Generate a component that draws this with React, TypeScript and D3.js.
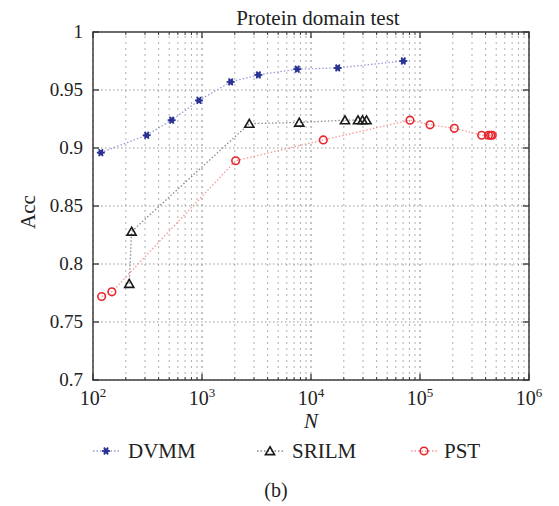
import React from "react";
import * as d3 from "d3";

// values
const dvmmN = [118, 311, 527, 938, 1832, 3290, 7480, 17580, 70300];
const dvmmAcc = [0.896, 0.911, 0.924, 0.941, 0.957, 0.963, 0.968, 0.969, 0.975];

const srilmN = [215, 226, 2716, 7810, 20500, 27000, 29700, 32300];
const srilmAcc = [0.783, 0.828, 0.921, 0.922, 0.924, 0.924, 0.924, 0.924];

const pstN = [120, 149, 2036, 12970, 80900, 123600, 206500, 368000, 425000, 445000, 460000];
const pstAcc = [0.772, 0.776, 0.889, 0.907, 0.924, 0.92, 0.917, 0.911, 0.911, 0.911, 0.911];

const yTicks = [0.7, 0.75, 0.8, 0.85, 0.9, 0.95, 1];
const yTickLabels = ["0.7", "0.75", "0.8", "0.85", "0.9", "0.95", "1"];
const xDecades = [2, 3, 4, 5, 6];

const W = 559;
const H = 506;
const margin = { left: 93, top: 32, right: 30, bottom: 126 };
const FONT = "'Liberation Serif', 'Times New Roman', serif";

const App = () => {
  const x = d3
    .scaleLog()
    .domain([1e2, 1e6])
    .range([margin.left, W - margin.right]);
  const y = d3
    .scaleLinear()
    .domain([0.7, 1])
    .range([H - margin.bottom, margin.top]);

  const x0 = x.range()[0];
  const x1 = x.range()[1];
  const y0 = y.range()[0];
  const y1 = y.range()[1];

  // minor log positions
  const minors: number[] = [];
  for (let e = 2; e < 6; e++) {
    for (let m = 2; m <= 9; m++) minors.push(m * Math.pow(10, e));
  }

  const line = d3
    .line<[number, number]>()
    .x((d) => x(d[0]))
    .y((d) => y(d[1]));

  const dvmm = dvmmN.map((n, i) => [n, dvmmAcc[i]] as [number, number]);
  const srilm = srilmN.map((n, i) => [n, srilmAcc[i]] as [number, number]);
  const pst = pstN.map((n, i) => [n, pstAcc[i]] as [number, number]);

  const tri = d3.symbol(d3.symbolTriangle, 36)();

  const star = (cx: number, cy: number, key: any) => (
    <g key={key} transform={`translate(${cx},${cy})`}>
      <circle r={2.6} fill="#2b3494" />
      {[0, 60, 120].map((a) => (
        <line
          key={a}
          x1={-4 * Math.cos((a * Math.PI) / 180)}
          y1={-4 * Math.sin((a * Math.PI) / 180)}
          x2={4 * Math.cos((a * Math.PI) / 180)}
          y2={4 * Math.sin((a * Math.PI) / 180)}
          stroke="#2b3494"
          strokeWidth={1.8}
        />
      ))}
    </g>
  );
  const triangle = (cx: number, cy: number, key: any) => (
    <path
      key={key}
      d={tri || ""}
      transform={`translate(${cx},${cy + 1})`}
      fill="none"
      stroke="#1a1a1a"
      strokeWidth={1.6}
    />
  );
  const circle = (cx: number, cy: number, key: any) => (
    <circle key={key} cx={cx} cy={cy} r={3.8} fill="none" stroke="#e8262b" strokeWidth={1.6} />
  );

  const legend = [
    { label: "DVMM", lx: 93, mx: 106, tx: 128, color: "#9c9cd8", mark: star },
    { label: "SRILM", lx: 257, mx: 270, tx: 292, color: "#8a8a8a", mark: triangle },
    { label: "PST", lx: 411, mx: 424, tx: 444, color: "#f29a9a", mark: circle },
  ];
  const ly = 451;

  return (
    <svg
      width={W}
      height={H}
      style={{ position: "absolute", left: 0, top: 0, background: "#fff", fontFamily: FONT }}
    >
      {/* grid */}
      <g>
        {minors.map((m) => (
          <line
            key={"m" + m}
            x1={x(m)}
            x2={x(m)}
            y1={y0}
            y2={y1}
            stroke="#b0b0b0"
            strokeWidth={1}
            strokeDasharray="2,4"
          />
        ))}
        {xDecades.map((e) => (
          <line
            key={"d" + e}
            x1={x(Math.pow(10, e))}
            x2={x(Math.pow(10, e))}
            y1={y0}
            y2={y1}
            stroke="#888"
            strokeWidth={1}
            strokeDasharray="2,4"
          />
        ))}
        {yTicks.map((t) => (
          <line
            key={"h" + t}
            x1={x0}
            x2={x1}
            y1={y(t)}
            y2={y(t)}
            stroke="#999"
            strokeWidth={1}
            strokeDasharray="1.5,2.5"
          />
        ))}
      </g>

      {/* series lines */}
      <path d={line(dvmm) || ""} fill="none" stroke="#9c9cd8" strokeWidth={1.3} strokeDasharray="1.5,2" />
      <path d={line(srilm) || ""} fill="none" stroke="#8a8a8a" strokeWidth={1.3} strokeDasharray="1.5,2" />
      <path d={line(pst) || ""} fill="none" stroke="#f29a9a" strokeWidth={1.3} strokeDasharray="1.5,2" />

      {/* markers */}
      {dvmm.map((d, i) => star(x(d[0]), y(d[1]), "s" + i))}
      {srilm.map((d, i) => triangle(x(d[0]), y(d[1]), "t" + i))}
      {pst.map((d, i) => circle(x(d[0]), y(d[1]), "c" + i))}

      {/* frame and ticks */}
      <rect x={x0} y={y1} width={x1 - x0} height={y0 - y1} fill="none" stroke="#4a4a4a" strokeWidth={1.6} />
      {xDecades.map((e) => (
        <g key={"xt" + e}>
          <line x1={x(Math.pow(10, e))} x2={x(Math.pow(10, e))} y1={y0} y2={y0 - 6} stroke="#333" strokeWidth={1.3} />
          <line x1={x(Math.pow(10, e))} x2={x(Math.pow(10, e))} y1={y1} y2={y1 + 6} stroke="#333" strokeWidth={1.3} />
        </g>
      ))}
      {minors.map((m) => (
        <g key={"xm" + m}>
          <line x1={x(m)} x2={x(m)} y1={y0} y2={y0 - 3} stroke="#333" strokeWidth={1} />
          <line x1={x(m)} x2={x(m)} y1={y1} y2={y1 + 3} stroke="#333" strokeWidth={1} />
        </g>
      ))}
      {yTicks.map((t) => (
        <g key={"yt" + t}>
          <line x1={x0} x2={x0 + 6} y1={y(t)} y2={y(t)} stroke="#333" strokeWidth={1.3} />
          <line x1={x1} x2={x1 - 6} y1={y(t)} y2={y(t)} stroke="#333" strokeWidth={1.3} />
        </g>
      ))}

      {/* tick labels */}
      {yTicks.map((t, i) => (
        <text key={"yl" + t} x={83} y={y(t)} dy="0.34em" textAnchor="end" fontSize={19} fill="#222">
          {yTickLabels[i]}
        </text>
      ))}
      {xDecades.map((e) => (
        <text key={"xl" + e} x={x(Math.pow(10, e))} y={y0 + 25} textAnchor="middle" fontSize={20} fill="#222">
          <tspan>10</tspan>
          <tspan dy={-8} fontSize={13}>
            {e}
          </tspan>
        </text>
      ))}

      {/* titles */}
      <text x={318} y={25} textAnchor="middle" fontSize={21} fill="#222">
        Protein domain test
      </text>
      <text transform={`translate(35,${(y0 + y1) / 2 + 6}) rotate(-90)`} textAnchor="middle" fontSize={21} fill="#222">
        Acc
      </text>
      <text x={(x0 + x1) / 2} y={428} textAnchor="middle" fontSize={21} fontStyle="italic" fill="#222">
        N
      </text>

      {/* legend */}
      {legend.map((l) => (
        <g key={l.label}>
          <line x1={l.lx} x2={l.lx + 27} y1={ly} y2={ly} stroke={l.color} strokeWidth={1.3} strokeDasharray="1.5,2" />
          {l.mark(l.mx, ly, "lm")}
          <text x={l.tx} y={ly + 7} fontSize={21} fill="#222">
            {l.label}
          </text>
        </g>
      ))}

      <text x={276} y={497} textAnchor="middle" fontSize={20} fill="#222">
        (b)
      </text>
    </svg>
  );
};

export default App;
